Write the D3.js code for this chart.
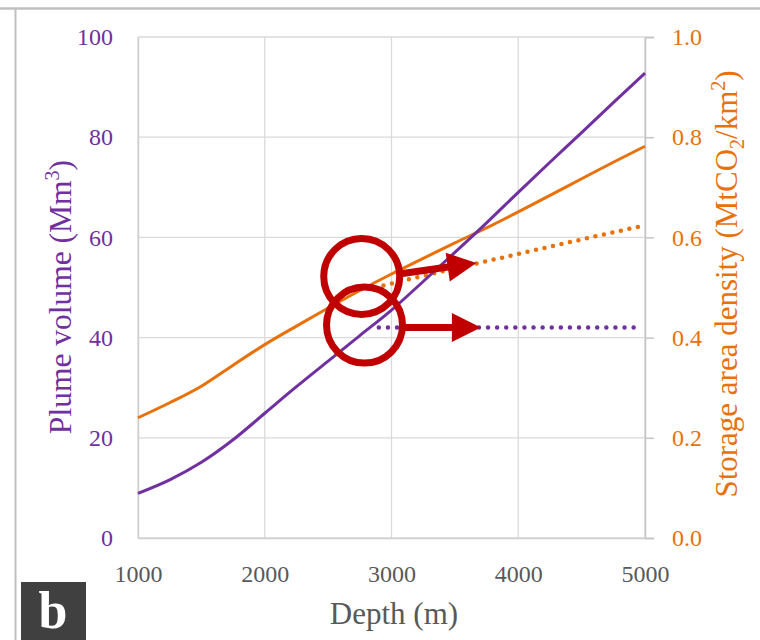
<!DOCTYPE html>
<html>
<head>
<meta charset="utf-8">
<script src="https://cdn.jsdelivr.net/npm/d3@7"></script>
<style>
  body { margin: 0; background: #fff; }
  svg { display: block; font-family: "Liberation Serif", "DejaVu Serif", serif; }
</style>
</head>
<body>
<script>
// depth in metres
var depth = [1000, 1250, 1500, 1750, 2000, 2250, 2500, 2750, 3000, 3250, 3500, 3750, 4000, 4250, 4500, 4750, 5000];
// plume volume (Mm3), left axis
var plume = [8.9, 11.6, 15.1, 19.6, 24.9, 30.2, 35.3, 40.4, 45.5, 51.2, 57, 62.9, 69, 75, 80.9, 86.9, 92.8];
// storage area density (MtCO2/km2), right axis
var density = [0.240, 0.270, 0.303, 0.345, 0.386, 0.423, 0.459, 0.494, 0.527, 0.558, 0.589, 0.619, 0.651, 0.684, 0.717, 0.750, 0.782];

// dotted "capped" series
var plumeCapDepth = [2900, 4950];
var plumeCap = [42, 42];
var densityCapDepth = [2870, 3000, 3500, 4000, 4500, 5000];
var densityCap = [0.500, 0.508, 0.538, 0.567, 0.596, 0.624];

// annotation circles and arrows (depth, plume-volume units)
var circleDepth = [2765, 2787];
var circleValue = [52.2, 42.5];
var arrowFrom = [[3060, 52.7], [3100, 42]];
var arrowTo = [[3670, 54.9], [3705, 42]];

var xTicks = [1000, 2000, 3000, 4000, 5000];
var leftTicks = [0, 20, 40, 60, 80, 100];
var rightTicks = [0, 0.2, 0.4, 0.6, 0.8, 1.0];

var W = 760, H = 640;
var plotLeft = 138, plotRight = 645, plotTop = 37, plotBottom = 538;
var purple = "#7030a0", orange = "#e8710a", red = "#c00000", grey = "#595959";

var svg = d3.select("body").append("svg")
    .attr("width", W)
    .attr("height", H);

var x = d3.scaleLinear().domain([1000, 5000]).range([plotLeft, plotRight]);
var yL = d3.scaleLinear().domain([0, 100]).range([plotBottom, plotTop]);
var yR = d3.scaleLinear().domain([0, 1]).range([plotBottom, plotTop]);

// frame lines of the figure panel
svg.append("line").attr("x1", 0).attr("x2", W).attr("y1", 8.5).attr("y2", 8.5)
    .attr("stroke", "#c0c0c0").attr("stroke-width", 2.5);
svg.append("line").attr("x1", 15.5).attr("x2", 15.5).attr("y1", 9).attr("y2", H)
    .attr("stroke", "#c0c0c0").attr("stroke-width", 2);

// gridlines
svg.append("g").selectAll("line").data(leftTicks).enter().append("line")
    .attr("x1", plotLeft).attr("x2", plotRight)
    .attr("y1", function (d) { return yL(d); }).attr("y2", function (d) { return yL(d); })
    .attr("stroke", "#dadada").attr("stroke-width", 1.3);
svg.append("g").selectAll("line").data(xTicks).enter().append("line")
    .attr("x1", function (d) { return x(d); }).attr("x2", function (d) { return x(d); })
    .attr("y1", plotTop).attr("y2", plotBottom)
    .attr("stroke", "#dadada").attr("stroke-width", 1.3);

// left axis
var gL = svg.append("g").attr("transform", "translate(" + plotLeft + ",0)")
    .call(d3.axisLeft(yL).tickValues(leftTicks).tickSize(0).tickPadding(25));
gL.select(".domain").attr("stroke", "#d0d0d0").attr("stroke-width", 1.5);
gL.selectAll("text").attr("fill", purple).style("font-size", "24px")
    .style("font-family", "Liberation Serif, serif");

// right axis
var gR = svg.append("g").attr("transform", "translate(" + plotRight + ",0)")
    .call(d3.axisRight(yR).tickValues(rightTicks).tickFormat(d3.format(".1f")).tickSize(9).tickPadding(18));
gR.select(".domain").attr("stroke", "#c4c4c4").attr("stroke-width", 1.5);
gR.selectAll(".tick line").attr("stroke", "#c4c4c4").attr("stroke-width", 1.5);
gR.selectAll("text").attr("fill", orange).style("font-size", "24px")
    .style("font-family", "Liberation Serif, serif");

// bottom axis
var gB = svg.append("g").attr("transform", "translate(0," + plotBottom + ")")
    .call(d3.axisBottom(x).tickValues(xTicks).tickFormat(d3.format("d")).tickSize(0).tickPadding(27));
gB.select(".domain").attr("stroke", "#d0d0d0").attr("stroke-width", 1.5);
gB.selectAll("text").attr("fill", grey).style("font-size", "24px")
    .style("font-family", "Liberation Serif, serif");

// axis titles
svg.append("text")
    .attr("transform", "translate(71,297) rotate(-90)")
    .attr("text-anchor", "middle")
    .attr("fill", purple)
    .style("font-size", "31.5px")
    .html('Plume volume (Mm<tspan dy="-12" font-size="20">3</tspan><tspan dy="12">)</tspan>');

svg.append("text")
    .attr("transform", "translate(737,284) rotate(-90)")
    .attr("text-anchor", "middle")
    .attr("fill", orange)
    .style("font-size", "31px")
    .html('Storage area density (MtCO<tspan dy="7" font-size="20">2</tspan><tspan dy="-7">/km</tspan><tspan dy="-12" font-size="20">2</tspan><tspan dy="12">)</tspan>');

svg.append("text")
    .attr("x", 394).attr("y", 624)
    .attr("text-anchor", "middle")
    .attr("fill", grey)
    .style("font-size", "31px")
    .text("Depth (m)");

// lines
var lineL = d3.line().x(function (d) { return x(d[0]); }).y(function (d) { return yL(d[1]); }).curve(d3.curveMonotoneX);
var lineR = d3.line().x(function (d) { return x(d[0]); }).y(function (d) { return yR(d[1]); }).curve(d3.curveMonotoneX);

svg.append("path")
    .datum(d3.zip(densityCapDepth, densityCap))
    .attr("d", lineR)
    .attr("fill", "none").attr("stroke", orange)
    .attr("stroke-width", 4.5).attr("stroke-linecap", "round")
    .attr("stroke-dasharray", "0,8.7");

svg.append("path")
    .datum(d3.zip(plumeCapDepth, plumeCap))
    .attr("d", lineL)
    .attr("fill", "none").attr("stroke", purple)
    .attr("stroke-width", 4.5).attr("stroke-linecap", "round")
    .attr("stroke-dasharray", "0,9.1");

svg.append("path")
    .datum(d3.zip(depth, density))
    .attr("d", lineR)
    .attr("fill", "none").attr("stroke", orange).attr("stroke-width", 3);

svg.append("path")
    .datum(d3.zip(depth, plume))
    .attr("d", lineL)
    .attr("fill", "none").attr("stroke", purple).attr("stroke-width", 3);

// annotations: circles and arrows
svg.append("g").selectAll("circle").data(d3.zip(circleDepth, circleValue)).enter().append("circle")
    .attr("cx", function (d) { return x(d[0]); })
    .attr("cy", function (d) { return yL(d[1]); })
    .attr("r", 38)
    .attr("fill", "none").attr("stroke", red).attr("stroke-width", 7);

var headLen = 29, headHalf = 14.5;
d3.zip(arrowFrom, arrowTo).forEach(function (a) {
    var x0 = x(a[0][0]), y0 = yL(a[0][1]);
    var x1 = x(a[1][0]), y1 = yL(a[1][1]);
    var len = Math.hypot(x1 - x0, y1 - y0);
    var ux = (x1 - x0) / len, uy = (y1 - y0) / len;
    var bx = x1 - ux * headLen, by = y1 - uy * headLen;
    svg.append("line")
        .attr("x1", x0).attr("y1", y0).attr("x2", bx + ux * 2).attr("y2", by + uy * 2)
        .attr("stroke", red).attr("stroke-width", 7);
    svg.append("path")
        .attr("d", "M" + x1 + "," + y1 +
            "L" + (bx - uy * headHalf) + "," + (by + ux * headHalf) +
            "L" + (bx + uy * headHalf) + "," + (by - ux * headHalf) + "Z")
        .attr("fill", red);
});

// panel label
svg.append("rect").attr("x", 21).attr("y", 582).attr("width", 65).attr("height", 60)
    .attr("fill", "#404040");
svg.append("text")
    .attr("x", 53).attr("y", 628)
    .attr("text-anchor", "middle")
    .attr("fill", "#fff")
    .style("font-size", "52px")
    .style("font-weight", "bold")
    .text("b");
</script>
</body>
</html>
